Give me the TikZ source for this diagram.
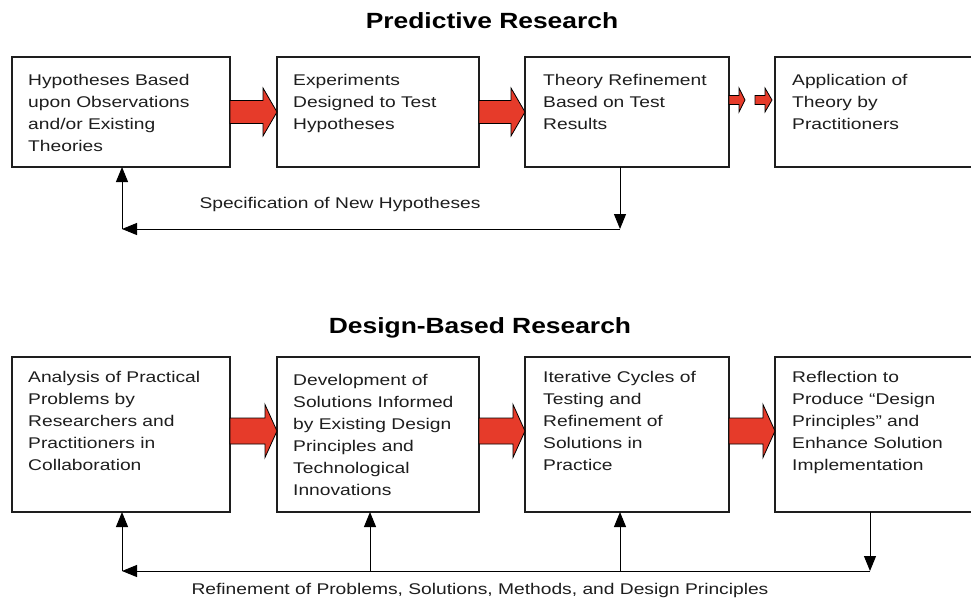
\documentclass[tikz,border=0pt]{standalone}
\usepackage{fontspec}
\setmainfont[FakeStretch=1.24]{Liberation Sans}
\newfontfamily\titlefont[FakeStretch=1.2]{Liberation Sans}
\usetikzlibrary{arrows.meta}
\definecolor{arrred}{HTML}{E63B2A}
\definecolor{ink}{HTML}{1E1E1E}
\newcommand\redarr[6]{%
  \draw[redarrow] (#1,#4-#5) -- (#2,#4-#5) -- (#2,#4-#6) -- (#3,#4) -- (#2,#4+#6) -- (#2,#4+#5) -- (#1,#4+#5) -- cycle;}
\begin{document}
\begin{tikzpicture}[x=1pt,y=-1pt,
  box/.style={draw=ink, line width=1.2pt, anchor=north west, inner sep=0pt, outer sep=0pt},
  topbox/.style={box, minimum height=110pt},
  botbox/.style={box, minimum height=155pt},
  txt/.style={anchor=north west, align=left, inner sep=0pt, font=\fontsize{15.5}{22}\selectfont, text=ink},
  lbl/.style={anchor=base, inner sep=0pt, font=\fontsize{15.5}{22}\selectfont, text=ink},
  ttl/.style={anchor=base, inner sep=0pt, font=\titlefont\bfseries\fontsize{22}{26}\selectfont, text=black},
  redarrow/.style={fill=arrred, draw=black, line width=0.8pt, line join=miter},
  fb/.style={draw=black, line width=1pt, -{Triangle[length=15pt,width=12pt]}}]
\useasboundingbox (0,0) rectangle (971,598);
\clip (0,0) rectangle (971,598);
\fill[white] (0,0) rectangle (971,598);

% titles
\node[ttl] (t1) at (492,28) {Predictive Research};
\node[ttl] (t2) at (480,333) {Design-Based Research};

% top boxes
\node[topbox, minimum width=218pt] (p1) at (12,57) {};
\node[topbox, minimum width=202pt] (p2) at (277,57) {};
\node[topbox, minimum width=204pt] (p3) at (525,57) {};
\node[topbox, minimum width=240pt] (p4) at (775,57) {};

\node[txt] (p1t) at (28,74) {Hypotheses Based\\upon Observations\\and/or Existing\\Theories};
\node[txt] (p2t) at (293,74) {Experiments\\Designed to Test\\Hypotheses};
\node[txt] (p3t) at (543,74) {Theory Refinement\\Based on Test\\Results};
\node[txt] (p4t) at (792,74) {Application of\\Theory by\\Practitioners};

% bottom boxes
\node[botbox, minimum width=218pt] (d1) at (12,357) {};
\node[botbox, minimum width=202pt] (d2) at (277,357) {};
\node[botbox, minimum width=204pt] (d3) at (525,357) {};
\node[botbox, minimum width=240pt] (d4) at (775,357) {};

\node[txt] (d1t) at (28,371) {Analysis of Practical\\Problems by\\Researchers and\\Practitioners in\\Collaboration};
\node[txt] (d2t) at (293,374) {Development of\\Solutions Informed\\by Existing Design\\Principles and\\Technological\\Innovations};
\node[txt] (d3t) at (543,371) {Iterative Cycles of\\Testing and\\Refinement of\\Solutions in\\Practice};
\node[txt] (d4t) at (792,371) {Reflection to\\Produce “Design\\Principles” and\\Enhance Solution\\Implementation};

% red block arrows
\redarr{230}{263}{277}{112}{11.5}{24}
\redarr{479}{511}{525}{112}{11.5}{24}
\redarr{729}{739}{745}{100}{4.5}{12}
\redarr{755}{765}{772}{100}{4.5}{12}
\redarr{230}{265}{277}{431}{13}{26.5}
\redarr{479}{513}{525}{431}{13}{26.5}
\redarr{729}{763}{775}{431}{13}{26.5}

% top feedback
\coordinate (ta) at (620,229);
\coordinate (tb) at (122,229);
\draw[fb] (p3.south -| ta) -- (ta);
\draw[fb] (ta) -- (tb);
\draw[fb] (tb) -- (tb |- p1.south);
\node[lbl] (spec) at (340,208) {Specification of New Hypotheses};

% bottom feedback
\coordinate (b4) at (870,571);
\coordinate (b3) at (620,571);
\coordinate (b2) at (370,571);
\coordinate (b1) at (122,571);
\draw[fb] (d4.south -| b4) -- (b4);
\draw[fb] (b4) -- (b1);
\draw[fb] (b1) -- (b1 |- d1.south);
\draw[fb] (b2) -- (b2 |- d2.south);
\draw[fb] (b3) -- (b3 |- d3.south);
\node[lbl] (refine) at (480,594) {Refinement of Problems, Solutions, Methods, and Design Principles};
\end{tikzpicture}
\end{document}
